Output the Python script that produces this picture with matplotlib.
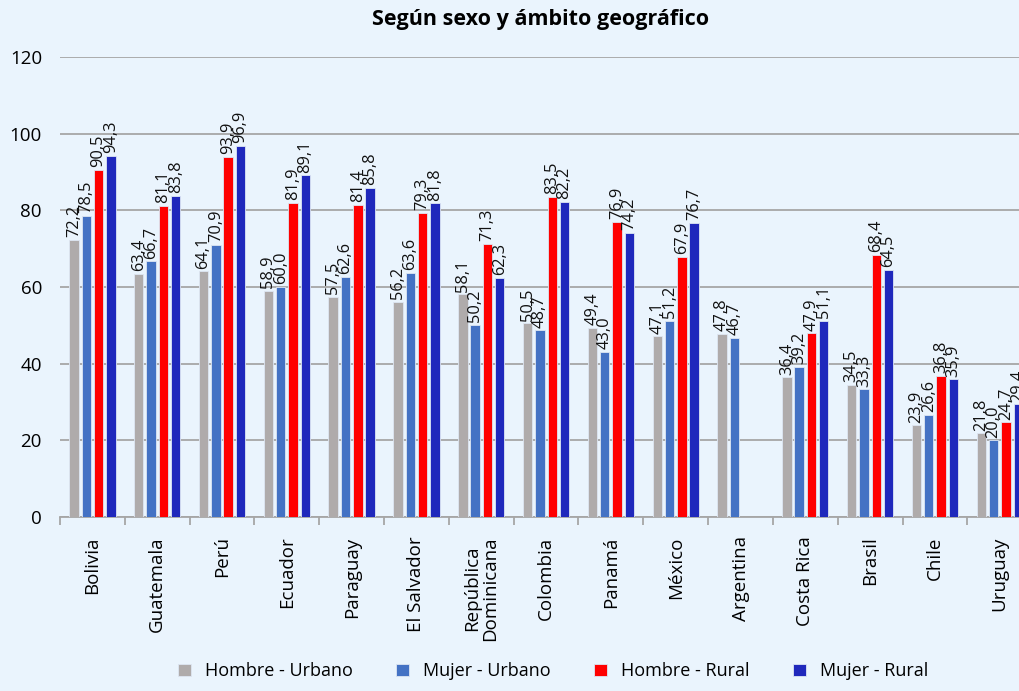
import numpy as np
import matplotlib
matplotlib.use('Agg')
import matplotlib.pyplot as plt

plt.rcParams['font.family'] = ['Open Sans', 'DejaVu Sans']

# datos
paises = ['Bolivia', 'Guatemala', 'Perú', 'Ecuador', 'Paraguay', 'El Salvador',
          'República\nDominicana', 'Colombia', 'Panamá', 'México', 'Argentina',
          'Costa Rica', 'Brasil', 'Chile', 'Uruguay']
hombre_urbano = [72.2, 63.4, 64.1, 58.9, 57.5, 56.2, 58.1, 50.5, 49.4, 47.1, 47.8, 36.4, 34.5, 23.9, 21.8]
mujer_urbano  = [78.5, 66.7, 70.9, 60.0, 62.6, 63.6, 50.2, 48.7, 43.0, 51.2, 46.7, 39.2, 33.3, 26.6, 20.0]
hombre_rural  = [90.5, 81.1, 93.9, 81.9, 81.4, 79.3, 71.3, 83.5, 76.9, 67.9, np.nan, 47.9, 68.4, 36.8, 24.7]
mujer_rural   = [94.3, 83.8, 96.9, 89.1, 85.8, 81.8, 62.3, 82.2, 74.2, 76.7, np.nan, 51.1, 64.5, 35.9, 29.4]

series = [
    ('Hombre - Urbano', hombre_urbano, '#afabab'),
    ('Mujer - Urbano',  mujer_urbano,  '#4472c4'),
    ('Hombre - Rural',  hombre_rural,  '#ff0000'),
    ('Mujer - Rural',   mujer_rural,   '#1f28bc'),
]

BG = '#eaf4fd'
fig = plt.figure(figsize=(10.19, 6.91), dpi=100, facecolor=BG)
ax = fig.add_axes([0.0589, 0.2518, 0.954, 0.6657], facecolor=BG)

x = np.arange(len(paises))
offsets = [-0.285, -0.095, 0.095, 0.285]
w = 0.145

for (name, vals, col), off in zip(series, offsets):
    vals = np.array(vals, dtype=float)
    ax.bar(x + off, vals, width=w, color=col, edgecolor='#dde6f3', linewidth=0.6,
           label=name, zorder=3)
    for xi, v in zip(x + off, vals):
        if np.isnan(v):
            continue
        ax.annotate(f'{v:.1f}'.replace('.', ','), (xi, v), xytext=(0, 2),
                    textcoords='offset points', rotation=90, ha='center', va='bottom',
                    fontsize=11.8, color='#111111', zorder=4)

ax.set_ylim(0, 120)
ax.set_yticks(range(0, 121, 20))
ax.set_xlim(-0.5, len(paises) - 0.5)
ax.yaxis.grid(True, color='#a6a6a6', lw=1.3, zorder=0)
ax.set_axisbelow(True)
for s in ['top', 'right', 'left']:
    ax.spines[s].set_visible(False)
ax.spines['bottom'].set_color('#a6a6a6')
ax.spines['bottom'].set_linewidth(1.3)
ax.tick_params(axis='y', length=0, labelsize=13.5, pad=13)
ax.set_xticks(x)
ax.set_xticklabels(paises, rotation=90, fontsize=13.5, va='top', ha='center', linespacing=1.0)
ax.tick_params(axis='x', length=0, pad=14)
# marcas entre categorías
ax.set_xticks(np.arange(-0.5, len(paises), 1), minor=True)
ax.tick_params(axis='x', which='minor', length=6, color='#a6a6a6', width=1.3)

fig.text(0.53, 0.972, 'Según sexo y ámbito geográfico', ha='center', va='center',
         fontsize=15.5, fontweight='bold')

fig.legend(loc='lower center', bbox_to_anchor=(0.543, -0.008), ncol=4, frameon=False,
           fontsize=13, handlelength=0.7, handleheight=0.7, columnspacing=2.4,
           handletextpad=0.8)

fig.savefig('out.png', dpi=100, facecolor=BG)
